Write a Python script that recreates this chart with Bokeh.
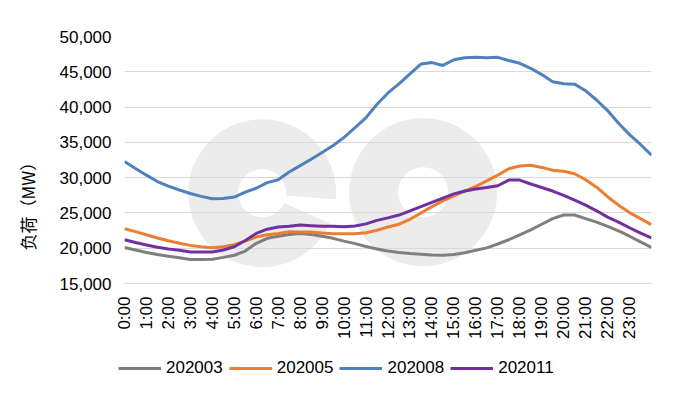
from bokeh.plotting import figure
from bokeh.layouts import column
from bokeh.models import Range1d, FixedTicker, NumeralTickFormatter, Legend, LegendItem, Title
from bokeh.embed import file_html
from bokeh.resources import INLINE
from math import pi

# ---------------- data ----------------
hours = [0, 0.5, 1, 1.5, 2, 2.5, 3, 3.5, 4, 4.5, 5, 5.5, 6, 6.5, 7, 7.5, 8, 8.5,
         9, 9.5, 10, 10.5, 11, 11.5, 12, 12.5, 13, 13.5, 14, 14.5, 15, 15.5, 16,
         16.5, 17, 17.5, 18, 18.5, 19, 19.5, 20, 20.5, 21, 21.5, 22, 22.5, 23,
         23.5, 24]

s202003 = [20100, 19750, 19400, 19100, 18850, 18650, 18400, 18400, 18450, 18700,
           19000, 19600, 20700, 21400, 21700, 21950, 22100, 21950, 21700, 21400,
           21000, 20650, 20250, 19900, 19600, 19400, 19250, 19150, 19050, 19000,
           19100, 19350, 19700, 20050, 20600, 21200, 21900, 22600, 23400, 24200,
           24700, 24700, 24200, 23700, 23100, 22450, 21700, 20900, 20100]

s202005 = [22750, 22350, 21900, 21450, 21050, 20700, 20400, 20200, 20050, 20200,
           20500, 21000, 21600, 21900, 22100, 22350, 22300, 22300, 22150, 22050,
           22050, 22050, 22200, 22550, 23000, 23400, 24100, 25000, 25900, 26700,
           27400, 28100, 28750, 29550, 30350, 31250, 31650, 31750, 31450, 31050,
           30900, 30550, 29700, 28650, 27300, 26100, 25050, 24200, 23350]

s202008 = [32270, 31300, 30350, 29450, 28800, 28250, 27750, 27350, 27000, 27050,
           27250, 27950, 28500, 29300, 29700, 30800, 31700, 32600, 33550, 34550,
           35700, 37100, 38500, 40400, 42000, 43300, 44700, 46100, 46300, 45900,
           46700, 47000, 47050, 47000, 47050, 46600, 46200, 45500, 44600, 43600,
           43300, 43250, 42300, 41000, 39500, 37700, 36100, 34700, 33200]

s202011 = [21200, 20800, 20450, 20150, 19900, 19700, 19450, 19450, 19450, 19750,
           20200, 21100, 22100, 22700, 23000, 23100, 23300, 23200, 23100, 23100,
           23050, 23150, 23450, 23950, 24300, 24700, 25300, 25900, 26500, 27100,
           27700, 28100, 28400, 28600, 28850, 29650, 29650, 29100, 28600, 28100,
           27500, 26800, 26100, 25300, 24400, 23700, 22900, 22150, 21450]

series_names = ["202003", "202005", "202008", "202011"]
series_colors = ["#7f7f7f", "#ed7d31", "#4f81bd", "#7030a0"]
series_values = [s202003, s202005, s202008, s202011]

x_ticks = [0, 1, 2, 3, 4, 5, 6, 7, 8, 9, 10, 11, 12, 13, 14, 15, 16, 17, 18,
           19, 20, 21, 22, 23]
x_tick_labels = ["0:00", "1:00", "2:00", "3:00", "4:00", "5:00", "6:00", "7:00",
                 "8:00", "9:00", "10:00", "11:00", "12:00", "13:00", "14:00",
                 "15:00", "16:00", "17:00", "18:00", "19:00", "20:00", "21:00",
                 "22:00", "23:00"]
y_ticks = [15000, 20000, 25000, 30000, 35000, 40000, 45000, 50000]
y_label = "负荷（MW）"

# watermark "eo" (decoration)
wm_e = (6.27, 27800)
wm_o = (13.6, 27940)

FONT = "Liberation Sans"
FS = "17px"

p = figure(width=674, height=345,
           x_range=Range1d(0, 24), y_range=Range1d(15000, 50000),
           output_backend="svg", toolbar_location=None,
           min_border_left=123, min_border_right=23,
           min_border_top=36, min_border_bottom=62)
p.outline_line_color = None
p.background_fill_color = "white"
p.border_fill_color = "white"

# watermark
p.annular_wedge(x=[wm_e[0]], y=[wm_e[1]], inner_radius=24, outer_radius=74,
                inner_radius_units="screen", outer_radius_units="screen",
                start_angle=-5 * pi / 180, end_angle=(360 - 24) * pi / 180,
                direction="anticlock",
                fill_color="#ececec", line_color=None, level="image")
p.annulus(x=[wm_o[0]], y=[wm_o[1]], inner_radius=25, outer_radius=74,
          inner_radius_units="screen", outer_radius_units="screen",
          fill_color="#ececec", line_color=None, level="image")

# grid
p.xgrid.visible = False
p.ygrid.ticker = FixedTicker(ticks=y_ticks)
p.ygrid.grid_line_color = "#d9d9d9"
p.ygrid.grid_line_width = 1

# y axis
p.yaxis.ticker = FixedTicker(ticks=y_ticks)
p.yaxis.formatter = NumeralTickFormatter(format="0,0")
p.yaxis.axis_line_color = None
p.yaxis.major_tick_line_color = None
p.yaxis.minor_tick_line_color = None
p.yaxis.major_tick_out = 0
p.yaxis.major_tick_in = 0
p.yaxis.major_label_standoff = 13
p.yaxis.major_label_text_font = FONT
p.yaxis.major_label_text_font_size = FS
p.yaxis.major_label_text_color = "#000000"

# x axis
p.xaxis.ticker = FixedTicker(ticks=x_ticks)
p.xaxis.major_label_overrides = {t: l for t, l in zip(x_ticks, x_tick_labels)}
p.xaxis.major_label_orientation = pi / 2
p.xaxis.axis_line_color = "#d9d9d9"
p.xaxis.major_tick_line_color = None
p.xaxis.minor_tick_line_color = None
p.xaxis.major_tick_out = 0
p.xaxis.major_tick_in = 0
p.xaxis.major_label_standoff = 13
p.xaxis.major_label_text_font = FONT
p.xaxis.major_label_text_font_size = FS
p.xaxis.major_label_text_color = "#000000"

# y axis title
t = Title(text=y_label, align="left", offset=33, standoff=29, vertical_align="top",
          text_font="Noto Sans CJK SC", text_font_size=FS,
          text_font_style="normal", text_color="#000000")
p.add_layout(t, "left")

# lines
for vals, col in zip(series_values, series_colors):
    p.line(hours, vals, line_width=3, line_color=col)

# legend strip (separate figure below the chart); its lines lie outside its view
p2 = figure(width=674, height=46, x_range=Range1d(0, 1), y_range=Range1d(0, 1),
            output_backend="svg", toolbar_location=None, min_border=0,
            x_axis_location=None, y_axis_location=None)
p2.outline_line_color = None
p2.grid.visible = False
legend_x = -5
try:
    p2.frame_align = False
    legend_x = 118
except Exception:
    legend_x = 0

items = []
for name, vals, col in zip(series_names, series_values, series_colors):
    r = p2.line(hours, vals, line_width=3, line_color=col)
    items.append(LegendItem(label=name, renderers=[r]))

legend = Legend(items=items, orientation="horizontal", location=(legend_x, 13),
                glyph_width=43, glyph_height=20, label_height=20,
                label_standoff=5, spacing=6, padding=0, margin=0,
                border_line_color=None, background_fill_alpha=0,
                label_text_font=FONT, label_text_font_size=FS,
                label_text_color="#000000")
p2.add_layout(legend)

open("out.html", "w").write(file_html(column(p, p2), INLINE))
